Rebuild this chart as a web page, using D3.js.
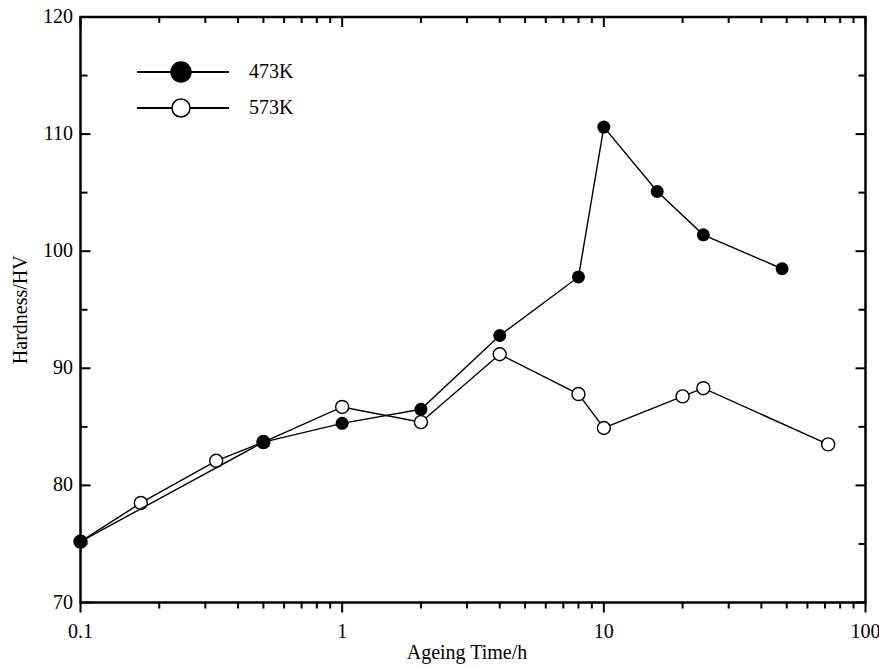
<!DOCTYPE html>
<html>
<head>
<meta charset="utf-8">
<script src="https://cdnjs.cloudflare.com/ajax/libs/d3/7.8.5/d3.min.js"></script>
<style>
  body { margin: 0; background: #fff; }
  text { font-family: "Liberation Serif", "Times New Roman", serif; fill: #000; }
</style>
</head>
<body>
<script>
// data
var time473 = [0.1, 0.5, 1, 2, 4, 8, 10, 16, 24, 48];
var hv473   = [75.2, 83.7, 85.3, 86.5, 92.8, 97.8, 110.6, 105.1, 101.4, 98.5];
var time573 = [0.1, 0.17, 0.33, 0.5, 1, 2, 4, 8, 10, 20, 24, 72];
var hv573   = [75.2, 78.5, 82.1, 83.7, 86.7, 85.4, 91.2, 87.8, 84.9, 87.6, 88.3, 83.5];
var xTickLabels = ["0.1", "1", "10", "100"];
var yTicks = [70, 80, 90, 100, 110, 120];

var W = 879, H = 668;
var pL = 80.5, pR = 865.5, pT = 17, pB = 602.5;
var fs = 20;

var svg = d3.select("body").append("svg").attr("width", W).attr("height", H);

var x = d3.scaleLog().domain([0.1, 100]).range([pL, pR]);
var y = d3.scaleLinear().domain([70, 120]).range([pB, pT]);

// minor ticks for log axis: 2..9 times each decade
var xMinor = [];
[0.1, 1, 10].forEach(function(d) {
  for (var k = 2; k <= 9; k++) xMinor.push(d * k);
});
var xMajor = xTickLabels.map(Number);
var yMinor = d3.range(75, 120, 10);

// frame
svg.append("rect").attr("x", pL).attr("y", pT)
  .attr("width", pR - pL).attr("height", pB - pT)
  .attr("fill", "none").attr("stroke", "#000").attr("stroke-width", 2.5);

var tk = svg.append("g").attr("stroke", "#000").attr("stroke-width", 2);

function vTicks(data, y0, len) {
  tk.selectAll(null).data(data).enter().append("line")
    .attr("x1", function(d) { return x(d); }).attr("x2", function(d) { return x(d); })
    .attr("y1", y0).attr("y2", y0 + len);
}
function hTicks(data, x0, len) {
  tk.selectAll(null).data(data).enter().append("line")
    .attr("x1", x0).attr("x2", x0 + len)
    .attr("y1", function(d) { return y(d); }).attr("y2", function(d) { return y(d); });
}
// bottom ticks point out, the others point in
vTicks(xMajor, pB, 10);
vTicks(xMinor, pB, 6);
vTicks(xMajor, pT, 10);
vTicks(xMinor, pT, 6);
hTicks(yTicks, pL, 10);
hTicks(yMinor, pL, 7);
hTicks(yTicks, pR, -10);
hTicks(yMinor, pR, -7);

// tick labels
svg.selectAll(".xl").data(xTickLabels).enter().append("text")
  .attr("x", function(d) { return x(+d); }).attr("y", 638)
  .attr("text-anchor", "middle").attr("font-size", fs)
  .text(function(d) { return d; });
svg.selectAll(".yl").data(yTicks).enter().append("text")
  .attr("x", 73).attr("y", function(d) { return y(d) + 6; })
  .attr("text-anchor", "end").attr("font-size", fs)
  .text(function(d) { return d; });

// axis titles
svg.append("text").attr("x", (pL + pR) / 2 - 6).attr("y", 659)
  .attr("text-anchor", "middle").attr("font-size", fs).text("Ageing Time/h");
svg.append("text").attr("transform", "translate(27," + ((pT + pB) / 2) + ") rotate(-90)")
  .attr("text-anchor", "middle").attr("font-size", fs).text("Hardness/HV");

var line = d3.line().x(function(d) { return x(d[0]); }).y(function(d) { return y(d[1]); });
var d573 = d3.zip(time573, hv573);
var d473 = d3.zip(time473, hv473);

// 573K open circles
svg.append("path").datum(d573).attr("d", line)
  .attr("fill", "none").attr("stroke", "#000").attr("stroke-width", 1.4);
svg.selectAll(".p573").data(d573).enter().append("circle")
  .attr("cx", function(d) { return x(d[0]); }).attr("cy", function(d) { return y(d[1]); })
  .attr("r", 6.5).attr("fill", "#fff").attr("stroke", "#000").attr("stroke-width", 1.4);

// 473K filled circles
svg.append("path").datum(d473).attr("d", line)
  .attr("fill", "none").attr("stroke", "#000").attr("stroke-width", 1.4);
svg.selectAll(".p473").data(d473).enter().append("circle")
  .attr("cx", function(d) { return x(d[0]); }).attr("cy", function(d) { return y(d[1]); })
  .attr("r", 6.5).attr("fill", "#000");

// legend
var legend = [["473K", true, 72], ["573K", false, 108]];
var lg = svg.selectAll(".lg").data(legend).enter().append("g");
lg.append("line").attr("x1", 137).attr("x2", 229)
  .attr("y1", function(d) { return d[2]; }).attr("y2", function(d) { return d[2]; })
  .attr("stroke", "#000").attr("stroke-width", 2.2);
lg.append("circle").attr("cx", 181).attr("cy", function(d) { return d[2]; })
  .attr("r", function(d) { return d[1] ? 10 : 9; })
  .attr("fill", function(d) { return d[1] ? "#000" : "#fff"; })
  .attr("stroke", "#000").attr("stroke-width", 1.5);
lg.append("text").attr("x", 249).attr("y", function(d) { return d[2] + 6; })
  .attr("font-size", fs).text(function(d) { return d[0]; });
</script>
</body>
</html>
